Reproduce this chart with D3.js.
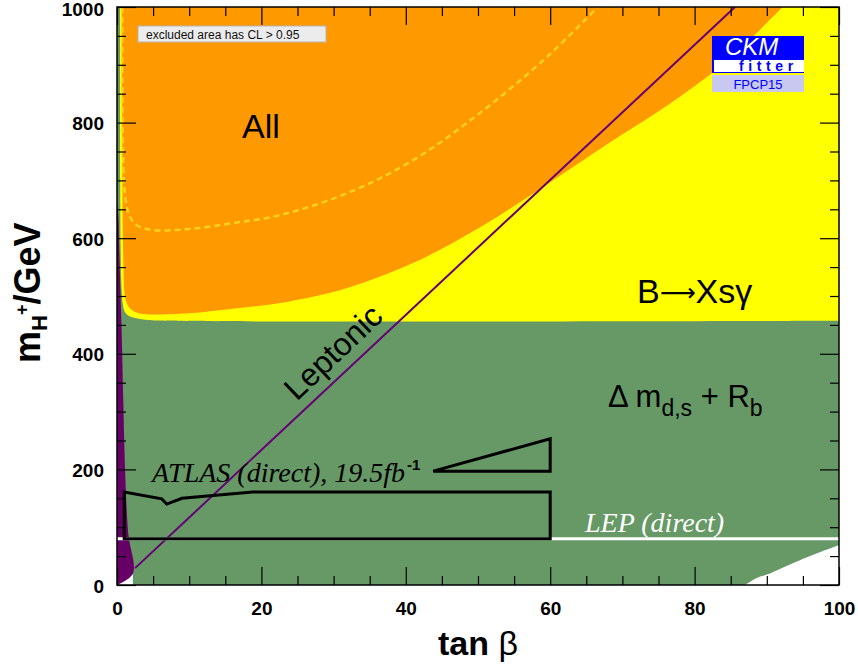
<!DOCTYPE html>
<html lang="en">
<head>
<meta charset="UTF-8" />
<title>tan beta vs m_H+ exclusion</title>
<script src="https://d3js.org/d3.v7.min.js"></script>
<style>
  body { margin: 0; background: #fff; }
  svg { display: block; font-family: "Liberation Sans", Arial, sans-serif; }
</style>
</head>
<body>
<div id="chart"></div>
<script>
const width = 858, height = 671;

// axis ticks
const xMajor = [0, 20, 40, 60, 80, 100];
const yMajor = [0, 200, 400, 600, 800, 1000];
const xMinor = d3.range(0, 101, 5).filter(v => v % 20);
const yMinor = d3.range(0, 1001, 50).filter(v => v % 200);

// boundaries, [tan beta, m_H+ in GeV]
const allBoundary = [[0.66,1000],[0.7,850],[0.75,700],[0.82,600],[0.92,540],[1.05,505],[1.4,486],[2,476],[3,470],[4.5,468],[10,470],[16,478],[22.6,488],[31.9,514],[41,557],[50.3,619],[60,697],[68.3,766],[76,828],[84,902],[92.2,1000]];
const bsgBoundary = [[0.42,1000],[0.44,700],[0.5,580],[0.6,520],[0.8,486],[1.1,472],[1.6,466],[2.2,463],[3.6,459.5],[6,457.5],[100,457]];
const allDashed = [[0.72,1000],[0.76,850],[0.9,720],[1.2,666],[1.8,637],[2.8,622],[5,614],[10,616],[16,626],[22.6,640],[31.9,678],[41,735],[50.3,817],[59.5,913],[66.6,1000]];
const purpleRegion = [[0,0],[2.2,20],[1.55,90],[1.1,204],[0.87,320],[0.65,436],[0.45,520],[0.3,590],[0.18,640],[0,660]];
const allowedLeft = [[0,0],[2.2,20],[2.2,0]];
const allowedRight = [[87,0],[88.6,12],[90,18],[94.6,43],[100,69]];
const leptonicLine = [[2.5,29.2],[85.6,1000]];
const lepLine = [[0,80],[100,80]];
const atlasLow = [[1,80],[60,80],[60,161],[18.8,161],[9,150],[6.9,140],[6.2,149],[1,161]];
const atlasHigh = [[43.8,197],[60,197],[60,253]];

const svg = d3.select("#chart").append("svg")
  .attr("width", width).attr("height", height);

const x = d3.scaleLinear().domain([0, 100]).range([117, 839]);
const y = d3.scaleLinear().domain([0, 1000]).range([585, 7]);

svg.append("clipPath").attr("id", "plot")
  .append("rect").attr("x", x(0)).attr("y", y(1000))
  .attr("width", x(100) - x(0)).attr("height", y(0) - y(1000));

const plot = svg.append("g").attr("clip-path", "url(#plot)");

const smooth = d3.line().x(d => x(d[0])).y(d => y(d[1])).curve(d3.curveCatmullRom.alpha(0.5));
const straight = d3.line().x(d => x(d[0])).y(d => y(d[1]));

// green = everything excluded by Delta m + Rb
plot.append("rect")
  .attr("x", x(0)).attr("y", y(1000))
  .attr("width", x(100) - x(0)).attr("height", y(0) - y(1000))
  .attr("fill", "#669966");

plot.append("path").attr("d", straight(allowedLeft) + "Z").attr("fill", "#fff");
plot.append("path").attr("d", smooth(allowedRight) + "L" + x(100) + "," + y(0) + "Z").attr("fill", "#fff");

plot.append("path")
  .attr("d", smooth(bsgBoundary) + "L" + x(100) + "," + y(1000) + "Z")
  .attr("fill", "#ffff00");

plot.append("path")
  .attr("d", smooth(allBoundary) + "Z")
  .attr("fill", "#ff9900");

plot.append("path")
  .attr("d", smooth(purpleRegion) + "Z")
  .attr("fill", "#660066");

plot.append("path")
  .attr("d", smooth(allDashed))
  .attr("fill", "none").attr("stroke", "#ffd21a")
  .attr("stroke-width", 2.5).attr("stroke-dasharray", "6,4");

plot.append("path")
  .attr("d", straight(leptonicLine))
  .attr("stroke", "#660077").attr("stroke-width", 2).attr("fill", "none");

plot.append("path")
  .attr("d", straight(lepLine))
  .attr("stroke", "#fff").attr("stroke-width", 3);

[atlasLow, atlasHigh].forEach(poly => {
  plot.append("path")
    .attr("d", straight(poly) + "Z")
    .attr("fill", "none").attr("stroke", "#000")
    .attr("stroke-width", 3).attr("stroke-linejoin", "miter");
});

// labels inside the plot
svg.append("text").attr("x", 242).attr("y", 138)
  .attr("font-size", 34).text("All");

const bsg = svg.append("text").attr("x", 637).attr("y", 303).attr("font-size", 34);
bsg.append("tspan").text("B");
bsg.append("tspan").attr("font-family", "'DejaVu Sans', sans-serif").attr("font-size", 25)
  .attr("dy", -2).text("\u27f6");
bsg.append("tspan").attr("dy", 2).text("Xs\u03b3");

const dm = svg.append("text").attr("x", 608).attr("y", 407).attr("font-size", 31);
dm.append("tspan").text("\u0394 m");
dm.append("tspan").attr("font-size", 23).attr("dy", 9).text("d,s");
dm.append("tspan").attr("dy", -9).text(" + R");
dm.append("tspan").attr("font-size", 23).attr("dy", 9).text("b");

svg.append("text")
  .attr("transform", "translate(333,352) rotate(-43.5)")
  .attr("text-anchor", "middle").attr("dy", "0.35em")
  .attr("font-size", 32).text("Leptonic");

const atlas = svg.append("text").attr("x", 152).attr("y", 482)
  .attr("font-family", "'Liberation Serif', 'Times New Roman', serif")
  .attr("font-style", "italic").attr("font-size", 28);
atlas.append("tspan").text("ATLAS (direct), 19.5fb");
atlas.append("tspan").attr("font-size", 15).attr("font-style", "normal")
  .attr("font-family", "'Liberation Sans', Arial, sans-serif").attr("font-weight", "bold")
  .attr("dy", -12).attr("dx", 2).text("-1");

svg.append("text").attr("x", 585).attr("y", 532)
  .attr("font-family", "'Liberation Serif', 'Times New Roman', serif")
  .attr("font-style", "italic").attr("font-size", 28)
  .attr("fill", "#fff").text("LEP (direct)");

// axes
function styleAxis(g) {
  g.select(".domain").remove();
  g.selectAll("line").attr("stroke", "#000").attr("stroke-width", 1.2);
  g.attr("font-family", "'Liberation Sans', Arial, sans-serif")
    .attr("font-weight", "bold").attr("font-size", 19);
  g.selectAll("text").attr("fill", "#000");
}

svg.append("g").attr("transform", `translate(0,${y(0)})`)
  .call(d3.axisBottom(x).tickValues(xMajor).tickSize(-18).tickPadding(17).tickFormat(d3.format("d")))
  .call(styleAxis);
svg.append("g").attr("transform", `translate(0,${y(0)})`)
  .call(d3.axisBottom(x).tickValues(xMinor).tickSize(-9).tickFormat(""))
  .call(styleAxis);
svg.append("g").attr("transform", `translate(0,${y(1000)})`)
  .call(d3.axisTop(x).tickValues(xMajor).tickSize(-18).tickFormat(""))
  .call(styleAxis);
svg.append("g").attr("transform", `translate(0,${y(1000)})`)
  .call(d3.axisTop(x).tickValues(xMinor).tickSize(-9).tickFormat(""))
  .call(styleAxis);

svg.append("g").attr("transform", `translate(${x(0)},0)`)
  .call(d3.axisLeft(y).tickValues(yMajor).tickSize(-19).tickPadding(13).tickFormat(d3.format("d")))
  .call(styleAxis)
  .call(g => g.selectAll("text").attr("dy", d => d === 1000 ? "0.45em" : "0.37em"));
svg.append("g").attr("transform", `translate(${x(0)},0)`)
  .call(d3.axisLeft(y).tickValues(yMinor).tickSize(-9).tickFormat(""))
  .call(styleAxis);
svg.append("g").attr("transform", `translate(${x(100)},0)`)
  .call(d3.axisRight(y).tickValues(yMajor).tickSize(-19).tickFormat(""))
  .call(styleAxis);
svg.append("g").attr("transform", `translate(${x(100)},0)`)
  .call(d3.axisRight(y).tickValues(yMinor).tickSize(-9).tickFormat(""))
  .call(styleAxis);

svg.append("rect")
  .attr("x", x(0)).attr("y", y(1000))
  .attr("width", x(100) - x(0)).attr("height", y(0) - y(1000))
  .attr("fill", "none").attr("stroke", "#000").attr("stroke-width", 1.5);

// axis titles
const xt = svg.append("text").attr("x", 438).attr("y", 655)
  .attr("font-size", 34).attr("font-weight", "bold");
xt.append("tspan").text("tan ");
xt.append("tspan").attr("font-weight", "normal").text("\u03b2");

const yt = svg.append("text").attr("transform", "translate(40,363) rotate(-90)")
  .attr("font-size", 36).attr("font-weight", "bold");
yt.append("tspan").text("m");
yt.append("tspan").attr("font-size", 22).attr("dy", 7).text("H");
yt.append("tspan").attr("font-size", 18).attr("dy", -19).text("+");
yt.append("tspan").attr("dy", 12).text("/GeV");

// legend box
svg.append("rect").attr("x", 138).attr("y", 26).attr("width", 188).attr("height", 16)
  .attr("fill", "#ececec").attr("stroke", "#b4b4b4").attr("stroke-width", 1);
svg.append("text").attr("x", 146).attr("y", 38.5).attr("font-size", 12)
  .attr("fill", "#111").text("excluded area has CL > 0.95");

// CKMfitter logo
const logo = svg.append("g");
logo.append("rect").attr("x", 712).attr("y", 36).attr("width", 92).attr("height", 37).attr("fill", "#0000ff");
logo.append("rect").attr("x", 714).attr("y", 60).attr("width", 90).attr("height", 12).attr("fill", "#fff");
logo.append("text").attr("x", 725).attr("y", 55).attr("font-size", 24)
  .attr("font-style", "italic").attr("fill", "#fff").text("CKM");
logo.append("text").attr("x", 739).attr("y", 71).attr("font-size", 14)
  .attr("font-weight", "bold").attr("letter-spacing", 4.6).attr("fill", "#0000ff").text("fitter");
logo.append("rect").attr("x", 712).attr("y", 75).attr("width", 92).attr("height", 17).attr("fill", "#c8c8f0");
logo.append("text").attr("x", 758).attr("y", 89).attr("text-anchor", "middle").attr("font-size", 13)
  .attr("fill", "#0000ff").text("FPCP15");
</script>
</body>
</html>
